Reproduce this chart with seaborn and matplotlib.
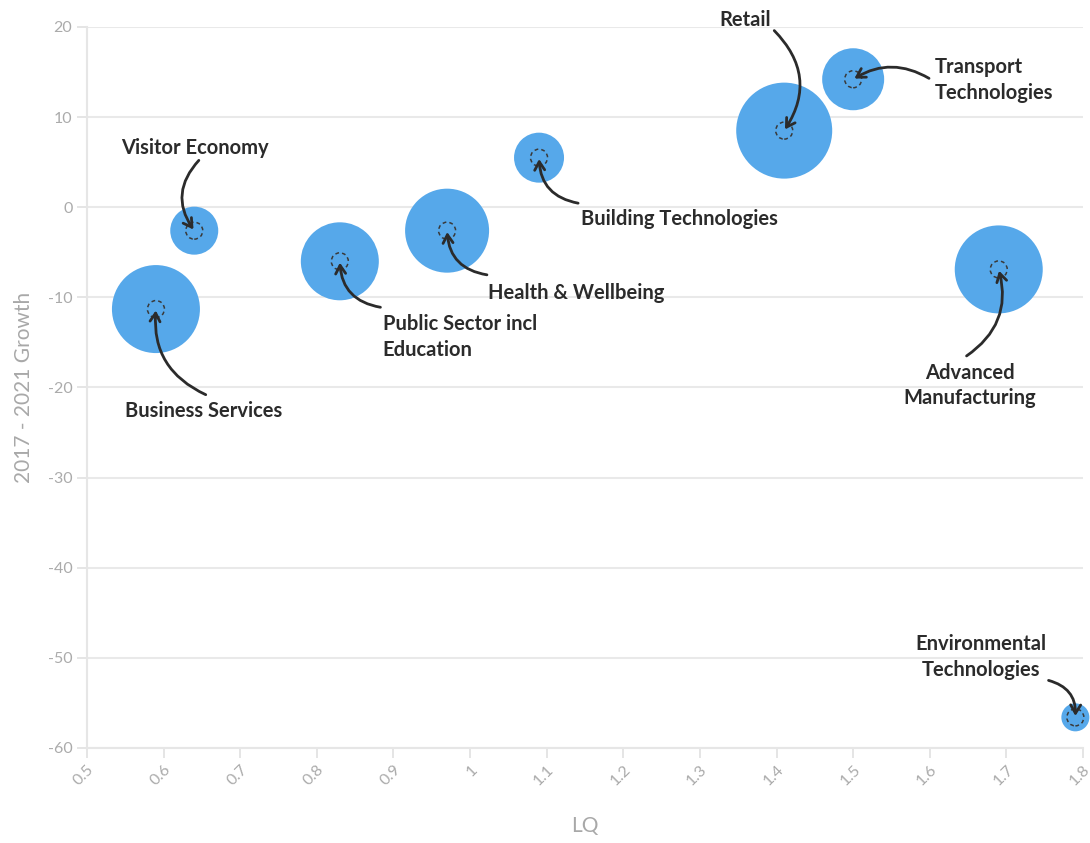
import numpy as np
import pandas as pd
import seaborn as sns
import matplotlib
matplotlib.use("Agg")
import matplotlib.pyplot as plt

# values
sectors = ["Business Services", "Visitor Economy", "Public Sector incl\nEducation",
           "Health & Wellbeing", "Building Technologies", "Retail",
           "Transport\nTechnologies", "Advanced\nManufacturing", "Environmental\nTechnologies"]
lq = [0.59, 0.64, 0.83, 0.97, 1.09, 1.41, 1.50, 1.69, 1.79]
growth = [-11.3, -2.6, -6.0, -2.6, 5.5, 8.5, 14.2, -6.9, -56.6]
bubble_size = [1936, 576, 1521, 1764, 625, 2304, 961, 1936, 196]

x_ticks = [0.5, 0.6, 0.7, 0.8, 0.9, 1.0, 1.1, 1.2, 1.3, 1.4, 1.5, 1.6, 1.7, 1.8]
x_tick_labels = ["0.5", "0.6", "0.7", "0.8", "0.9", "1", "1.1", "1.2", "1.3",
                 "1.4", "1.5", "1.6", "1.7", "1.8"]
y_ticks = [-60, -50, -40, -30, -20, -10, 0, 10, 20]

# label layout: text position, alignment, arrow start, arrow curvature
labels = {
    "Business Services": ((0.652, -22.6), "center", (0.655, -20.8), -0.35),
    "Visitor Economy": ((0.641, 6.6), "center", (0.646, 5.2), 0.4),
    "Public Sector incl\nEducation": ((0.886, -14.4), "left", (0.883, -11.1), -0.4),
    "Health & Wellbeing": ((1.024, -9.5), "left", (1.022, -7.5), -0.4),
    "Building Technologies": ((1.145, -1.3), "left", (1.141, 0.45), -0.4),
    "Retail": ((1.359, 20.8), "center", (1.397, 19.6), -0.4),
    "Transport\nTechnologies": ((1.606, 14.15), "left", (1.599, 14.3), 0.3),
    "Advanced\nManufacturing": ((1.652, -19.8), "center", (1.648, -16.5), 0.35),
    "Environmental\nTechnologies": ((1.667, -49.9), "center", (1.755, -52.5), -0.4),
}

df = pd.DataFrame({"sector": sectors, "lq": lq, "growth": growth, "size": bubble_size})

sns.set_theme(style="white")
plt.rcParams["font.family"] = ["Lato", "DejaVu Sans"]
plt.rcParams["axes.unicode_minus"] = False

fig = plt.figure(figsize=(10.9, 8.43), dpi=100)
ax = fig.add_axes([0.0798, 0.1127, 0.9138, 0.8553])

max_size = max(bubble_size)
scale = 4 * 0.72 ** 2
sns.scatterplot(data=df, x="lq", y="growth", size="size",
                sizes=(0, scale * max_size), size_norm=(0, max_size),
                color="#56a8ea", edgecolor="none", alpha=1, legend=False,
                ax=ax, zorder=3, clip_on=False)

ax.scatter(df["lq"], df["growth"], s=(17 * 0.72) ** 2, facecolors="none",
           edgecolors="#3a3a3a", linewidths=1.1, linestyles=(0, (2.5, 2)),
           zorder=4, clip_on=False)

for name, (pos, ha, start, rad) in labels.items():
    i = sectors.index(name)
    ax.text(pos[0], pos[1], name, ha=ha, va="center", ma=ha, fontsize=14.5,
            fontweight="bold", color="#2b2b2b", linespacing=1.35, zorder=5)
    ax.annotate("", xy=(lq[i], growth[i]), xytext=start,
                arrowprops=dict(arrowstyle="->,head_length=0.5,head_width=0.3",
                                connectionstyle=f"arc3,rad={rad}",
                                color="#2b2b2b", lw=2, shrinkA=0, shrinkB=1),
                zorder=6, annotation_clip=False)

ax.set_xlim(0.5, 1.8)
ax.set_ylim(-60, 20)
ax.set_xticks(x_ticks)
ax.set_xticklabels(x_tick_labels, rotation=45, ha="right", rotation_mode="anchor")
ax.set_yticks(y_ticks)
ax.yaxis.grid(True, color="#e9e9e9", lw=1.5, zorder=0)
ax.xaxis.grid(False)
for s in ["top", "right"]:
    ax.spines[s].set_visible(False)
for s in ["left", "bottom"]:
    ax.spines[s].set_color("#e6e6e6")
    ax.spines[s].set_linewidth(1.5)
ax.tick_params(axis="both", colors="#e0e0e0", labelcolor="#ababab",
               labelsize=11.5, length=7, width=1.2, left=True, bottom=True)
ax.set_xlabel("LQ", fontsize=15, color="#a8a8a8", labelpad=20)
ax.set_ylabel("2017 - 2021 Growth", fontsize=15, color="#a8a8a8", labelpad=10)

fig.savefig("out.png", dpi=100)
plt.close(fig)
